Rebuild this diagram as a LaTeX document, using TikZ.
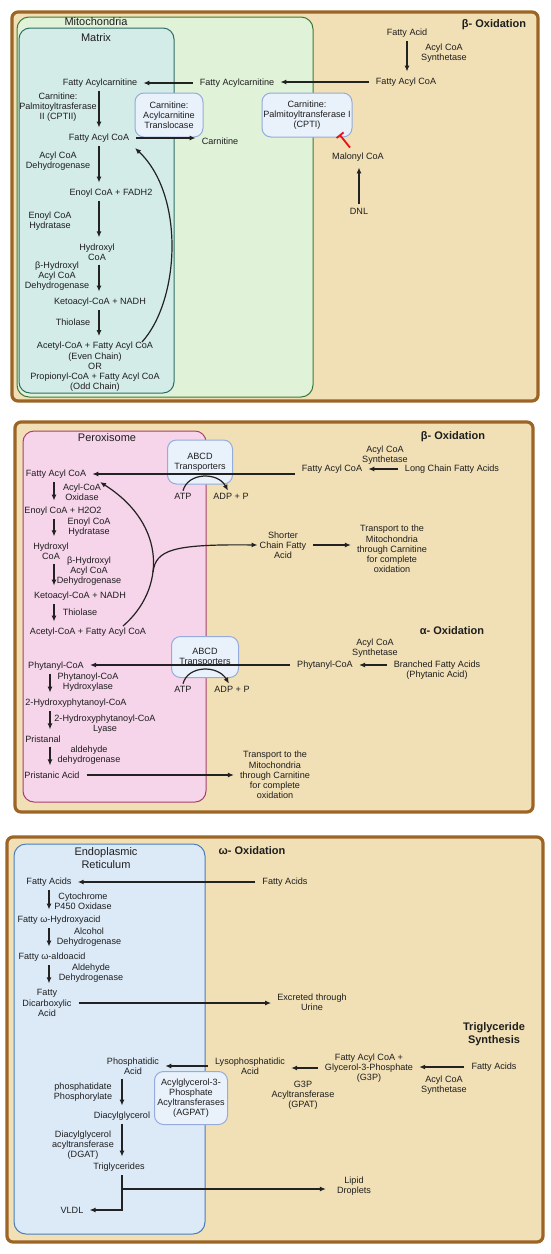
\documentclass[tikz,border=0pt]{standalone}
\usepackage{fontspec}
\setmainfont{Liberation Sans}
\usetikzlibrary{arrows.meta,calc}
\definecolor{wheat}{HTML}{F1E0B5}
\definecolor{brn}{HTML}{9C6425}
\definecolor{mitof}{HTML}{E0F2D8}
\definecolor{mitob}{HTML}{3D7A3A}
\definecolor{matf}{HTML}{D3ECE8}
\definecolor{matb}{HTML}{2C6E63}
\definecolor{perf}{HTML}{F6D4EA}
\definecolor{perb}{HTML}{A8406F}
\definecolor{erf}{HTML}{DCEAF8}
\definecolor{erb}{HTML}{4A7DB8}
\definecolor{boxf}{HTML}{E9F1FB}
\definecolor{boxb}{HTML}{94ABDC}
\definecolor{inhc}{HTML}{E8101A}
\definecolor{txt}{HTML}{1E1E1E}
\definecolor{arrc}{HTML}{222222}
\begin{document}
\begin{tikzpicture}[x=1pt,y=-1pt,
  every node/.style={font=\fontsize{9.1}{10.2}\selectfont, text=txt},
  lbl/.style={align=center, inner xsep=2pt, inner ysep=2pt},
  ttl/.style={font=\fontsize{11}{12.5}\selectfont, align=center, inner sep=0pt},
  btl/.style={font=\fontsize{11}{12.5}\selectfont\bfseries, align=center, inner sep=0pt},
  tbox/.style={draw=boxb, fill=boxf, line width=1pt, rounded corners=9pt, align=center, inner sep=0pt},
  panel/.style={draw=brn, fill=wheat, line width=3.2pt, rounded corners=6pt},
  varr/.style={draw=arrc, line width=1.2pt, -{Latex[length=6pt,width=5pt]}, shorten <=2pt, shorten >=4pt},
  harr/.style={draw=arrc, line width=1.2pt, -{Latex[length=6pt,width=5pt]}, shorten <=5pt, shorten >=4pt},
  curv/.style={draw=arrc, line width=1.2pt, -{Latex[length=6pt,width=5pt]}},
  inh/.style={draw=inhc, line width=1.8pt, -{Bar[width=9pt,line width=1.8pt]}}
]
\fill[white] (0,0) rectangle (550,1254);
\useasboundingbox (0,0) rectangle (550,1254);

% column coordinates
\coordinate (cA) at (99,0);
\coordinate (cB) at (407,0);
\coordinate (cC) at (359,0);
\coordinate (cP) at (54,0);
\coordinate (cQ) at (50,0);
\coordinate (cE) at (49,0);
\coordinate (cT) at (122,0);

%================ Panel 1 =================
\draw[panel] (12,12) rectangle (538,401);
\draw[draw=mitob, fill=mitof, line width=1pt, rounded corners=12pt] (17,17) rectangle (313,397);
\draw[draw=matb, fill=matf, line width=1pt, rounded corners=11pt] (19,28) rectangle (174,393);

\node[ttl] (mito) at (96,22) {Mitochondria};
\node[ttl] (matrix) at (96,38) {Matrix};
\node[btl] (bo1) at (494,25) {β- Oxidation};

\node[lbl] (fa) at (407,33) {Fatty Acid};
\node[lbl] (acs1) at (444,53) {Acyl CoA\\Synthetase};
\node[lbl] (facoa1) at (406,82) {Fatty Acyl CoA};
\node[lbl] (facar1) at (237,83) {Fatty Acylcarnitine};
\node[lbl] (facar2) at (100,83) {Fatty Acylcarnitine};
\node[lbl] (cpt2) at (58,107) {Carnitine:\\Palmitoyltrasferase\\II (CPTII)};
\node[lbl] (facoa2) at (99,138) {Fatty Acyl CoA};
\node[lbl] (carn) at (220,141) {Carnitine};
\node[tbox, minimum width=68pt, minimum height=44pt] (tl) at (169,115) {Carnitine:\\Acylcarnitine\\Translocase};
\node[tbox, minimum width=90pt, minimum height=44pt] (cpt1) at (307,115) {Carnitine:\\Palmitoyltransferase I\\(CPTI)};
\node[lbl] (malonyl) at (358,157) {Malonyl CoA};
\node[lbl] (dnl) at (359,211) {DNL};
\node[lbl] (acd) at (58,161) {Acyl CoA\\Dehydrogenase};
\node[lbl] (enoyl1) at (111,193) {Enoyl CoA + FADH2};
\node[lbl] (ech1) at (50,221) {Enoyl CoA\\Hydratase};
\node[lbl] (hyd1) at (97,252) {Hydroxyl\\CoA};
\node[lbl] (bhad1) at (57,276) {β-Hydroxyl\\Acyl CoA\\Dehydrogenase};
\node[lbl] (keto1) at (100,302) {Ketoacyl-CoA + NADH};
\node[lbl] (thio1) at (73,322) {Thiolase};
\node[lbl] (acetyl1) at (95,367) {Acetyl-CoA + Fatty Acyl CoA\\(Even Chain)\\OR\\Propionyl-CoA + Fatty Acyl CoA\\(Odd Chain)};

\draw[varr] (fa.south -| cB) -- (facoa1.north -| cB);
\draw[harr] (facoa1.west) -- (facoa1.west -| facar1.east);
\draw[harr] (facar1.west) -- (facar1.west -| facar2.east);
\draw[varr] (facar2.south -| cA) -- (facoa2.north -| cA);
\draw[harr] (facoa2.east) -- (facoa2.east -| carn.west);
\draw[varr] (facoa2.south -| cA) -- (enoyl1.north -| cA);
\draw[varr] (enoyl1.south -| cA) -- (hyd1.north -| cA);
\draw[varr] (hyd1.south -| cA) -- (keto1.north -| cA);
\draw[varr] (keto1.south -| cA) -- (acetyl1.north -| cA);
\draw[varr] (dnl.north -| cC) -- (malonyl.south -| cC);
\draw[inh] ([xshift=-8pt,yshift=3pt]malonyl.north) -- ([xshift=-13pt,yshift=3pt]cpt1.south east);
\coordinate (c1s) at (142,342);
\coordinate (c1e) at (135,148);
\draw[curv] (c1s) .. controls (180,300) and (185,195) .. (c1e);

%================ Panel 2 =================
\draw[panel] (15,422) rectangle (533,812);
\draw[draw=perb, fill=perf, line width=1pt, rounded corners=11pt] (23,431) rectangle (206,802);

\node[ttl] (perox) at (107,438) {Peroxisome};
\node[btl] (bo2) at (453,437) {β- Oxidation};
\node[lbl] (acs2) at (385,455) {Acyl CoA\\Synthetase};
\node[lbl] (facoa3) at (332,469) {Fatty Acyl CoA};
\node[lbl] (lcfa) at (452,469) {Long Chain Fatty Acids};
\node[lbl] (facoa4) at (56,474) {Fatty Acyl CoA};
\node[tbox, minimum width=65pt, minimum height=44pt] (abcd1) at (200,462) {ABCD\\Transporters};
\node[lbl] (atp1) at (183,496) {ATP};
\node[lbl] (adp1) at (231,496) {ADP + P};
\node[lbl] (aco) at (82,492) {Acyl-CoA\\Oxidase};
\node[lbl] (enoyl2) at (63,511) {Enoyl CoA + H2O2};
\node[lbl] (ech2) at (89,527) {Enoyl CoA\\Hydratase};
\node[lbl] (hyd2) at (51,551) {Hydroxyl\\CoA};
\node[lbl] (bhad2) at (89,571) {β-Hydroxyl\\Acyl CoA\\Dehydrogenase};
\node[lbl] (keto2) at (80,596) {Ketoacyl-CoA + NADH};
\node[lbl] (thio2) at (80,612) {Thiolase};
\node[lbl] (acetyl2) at (88,632) {Acetyl-CoA + Fatty Acyl CoA};
\node[lbl] (shorter) at (283,545) {Shorter\\Chain Fatty\\Acid};
\node[lbl] (trans1) at (392,549) {Transport to the\\Mitochondria\\through Carnitine\\for complete\\oxidation};

\node[btl] (ao) at (452,631) {α- Oxidation};
\node[lbl] (acs3) at (375,648) {Acyl CoA\\Synthetase};
\node[lbl] (phy1) at (325,665) {Phytanyl-CoA};
\node[lbl] (bfa) at (437,670) {Branched Fatty Acids\\(Phytanic Acid)};
\node[tbox, minimum width=67pt, minimum height=41pt] (abcd2) at (205,657) {ABCD\\Transporters};
\node[lbl] (atp2) at (183,689) {ATP};
\node[lbl] (adp2) at (232,689) {ADP + P};
\node[lbl] (phy2) at (56,666) {Phytanyl-CoA};
\node[lbl] (pch) at (88,682) {Phytanoyl-CoA\\Hydroxylase};
\node[lbl] (hp) at (76,703) {2-Hydroxyphytanoyl-CoA};
\node[lbl] (hpl) at (105,724) {2-Hydroxyphytanoyl-CoA\\Lyase};
\node[lbl] (prl) at (43,739) {Pristanal};
\node[lbl] (ald) at (89,755) {aldehyde\\dehydrogenase};
\node[lbl] (pra) at (52,775) {Pristanic Acid};
\node[lbl] (trans2) at (275,775) {Transport to the\\Mitochondria\\through Carnitine\\for complete\\oxidation};

\draw[harr] (lcfa.west) -- (lcfa.west -| facoa3.east);
\draw[harr] (facoa3.west |- facoa4.east) -- (facoa4.east);
\draw[varr] (facoa4.south -| cP) -- (enoyl2.north -| cP);
\draw[varr] (enoyl2.south -| cP) -- (hyd2.north -| cP);
\draw[varr] (hyd2.south -| cP) -- (keto2.north -| cP);
\draw[varr] (keto2.south -| cP) -- (acetyl2.north -| cP);
\draw[curv] (atp1.north) .. controls (188,472) and (218,472) .. ([xshift=-3pt]adp1.north);
\coordinate (c2s) at (123,626);
\coordinate (c2e) at (100,482);
\draw[curv] (c2s) .. controls (165,590) and (168,525) .. (c2e);
\coordinate (br) at (153,572);
\draw[curv] (br) .. controls (156,550) and (172,544) .. (shorter.west);
\draw[harr] (shorter.east) -- (shorter.east -| trans1.west);

\draw[harr] (bfa.west |- phy1.east) -- (phy1.east);
\draw[harr] (phy1.west) -- (phy1.west -| phy2.east);
\draw[varr] (phy2.south -| cQ) -- (hp.north -| cQ);
\draw[varr] (hp.south -| cQ) -- (prl.north -| cQ);
\draw[varr] (prl.south -| cQ) -- (pra.north -| cQ);
\draw[curv] (atp2.north) .. controls (188,665) and (218,665) .. ([xshift=-3pt]adp2.north);
\draw[harr] (pra.east) -- (pra.east -| trans2.west);

%================ Panel 3 =================
\draw[panel] (7,837) rectangle (543,1242);
\draw[draw=erb, fill=erf, line width=1pt, rounded corners=12pt] (14,844) rectangle (205,1234);

\node[ttl] (er) at (106,858) {Endoplasmic\\Reticulum};
\node[btl] (wo) at (252,851) {ω- Oxidation};
\node[lbl] (fa3) at (285,882) {Fatty Acids};
\node[lbl] (fa4) at (49,882) {Fatty Acids};
\node[lbl] (cyp) at (83,901) {Cytochrome\\P450 Oxidase};
\node[lbl] (fwh) at (59,920) {Fatty ω-Hydroxyacid};
\node[lbl] (adh) at (89,937) {Alcohol\\Dehydrogenase};
\node[lbl] (fwa) at (52,957) {Fatty ω-aldoacid};
\node[lbl] (aldh) at (91,973) {Aldehyde\\Dehydrogenase};
\node[lbl] (fda) at (47,1003) {Fatty\\Dicarboxylic\\Acid};
\node[lbl] (urine) at (312,1002) {Excreted through\\Urine};

\node[btl] (tgs) at (494,1034) {Triglyceride\\Synthesis};
\node[lbl] (fa5) at (494,1067) {Fatty Acids};
\node[lbl] (acs4) at (444,1085) {Acyl CoA\\Synthetase};
\node[lbl] (g3p) at (369,1068) {Fatty Acyl CoA +\\Glycerol-3-Phosphate\\(G3P)};
\node[lbl] (gpat) at (303,1095) {G3P\\Acyltransferase\\(GPAT)};
\node[lbl] (lpa) at (250,1066) {Lysophosphatidic\\Acid};
\node[lbl] (pa) at (133,1066) {Phosphatidic\\Acid};
\node[tbox, minimum width=73pt, minimum height=53pt] (agpat) at (191,1098) {Acylglycerol-3-\\Phosphate\\Acyltransferases\\(AGPAT)};
\node[lbl] (pp) at (83,1092) {phosphatidate\\Phosphorylate};
\node[lbl] (dag) at (122,1116) {Diacylglycerol};
\node[lbl] (dgat) at (83,1145) {Diacylglycerol\\acyltransferase\\(DGAT)};
\node[lbl] (tg) at (119,1167) {Triglycerides};
\node[lbl] (vldl) at (72,1210) {VLDL};
\node[lbl] (lipid) at (354,1186) {Lipid\\Droplets};

\draw[harr] (fa3.west) -- (fa3.west -| fa4.east);
\draw[varr] (fa4.south -| cE) -- (fwh.north -| cE);
\draw[varr] (fwh.south -| cE) -- (fwa.north -| cE);
\draw[varr] (fwa.south -| cE) -- (fda.north -| cE);
\draw[harr] (fda.east) -- (fda.east -| urine.west);
\draw[harr] (fa5.west) -- (fa5.west -| g3p.east);
\draw[harr] (g3p.west) -- (g3p.west -| lpa.east);
\draw[harr] (lpa.west) -- (lpa.west -| pa.east);
\draw[varr] (pa.south -| cT) -- (dag.north -| cT);
\draw[varr] (dag.south -| cT) -- (tg.north -| cT);
\draw[varr] (tg.south -| cT) -- (cT |- vldl.east) -- (vldl.east);
\coordinate (jn) at (122,1189);
\draw[curv, shorten >=9pt] (jn) -- (jn -| lipid.west);
\end{tikzpicture}
\end{document}
